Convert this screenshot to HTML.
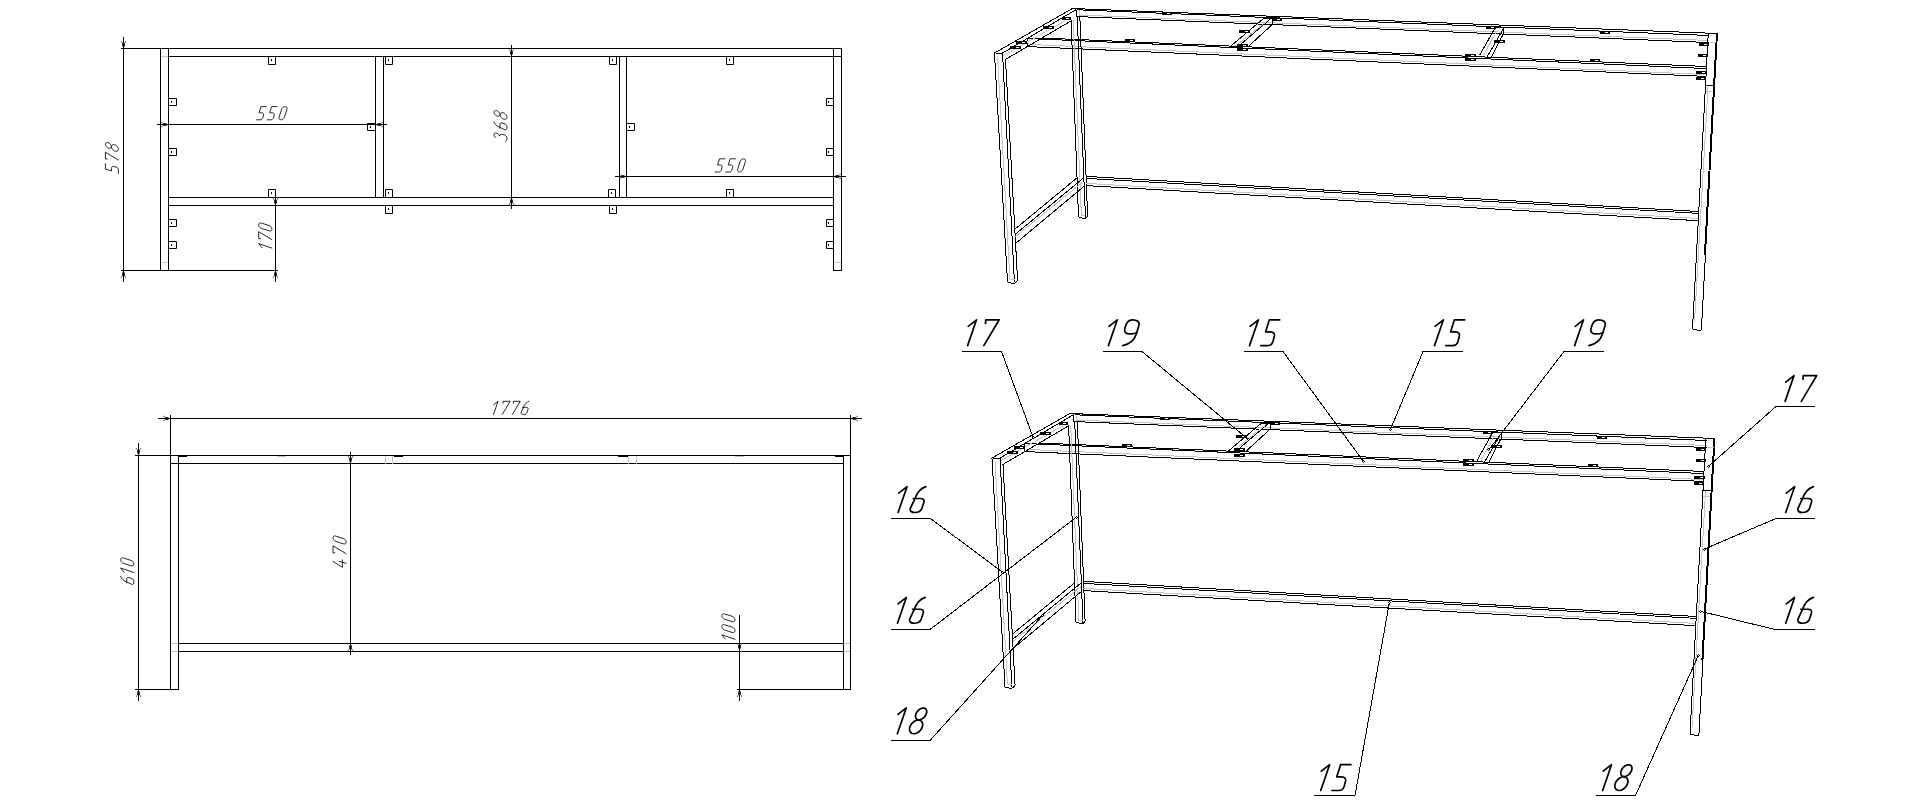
<!DOCTYPE html>
<html><head><meta charset="utf-8"><title>Frame drawing</title>
<style>
html,body{margin:0;padding:0;background:#fff;width:1920px;height:804px;overflow:hidden;font-family:"Liberation Sans",sans-serif;}
svg{display:block;}
</style></head>
<body>
<svg width="1920" height="804" viewBox="0 0 1920 804" fill="none" stroke-width="1">
<rect width="1920" height="804" fill="#fff"/>
<path d="M121 48.5H842" stroke="#000"/>
<path d="M168 56.5H842" stroke="#000"/>
<path d="M168 197.5H834" stroke="#000"/>
<path d="M168 205.5H834" stroke="#000"/>
<path d="M121 270.5H278" stroke="#000"/>
<path d="M833 270.5H842" stroke="#000"/>
<path d="M160.5 48V271" stroke="#000"/>
<path d="M168.5 48V271" stroke="#000"/>
<path d="M833.5 48V271" stroke="#000"/>
<path d="M841.5 48V271" stroke="#000"/>
<path d="M375.5 56V198" stroke="#000"/>
<path d="M383.5 56V198" stroke="#000"/>
<path d="M619.5 56V198" stroke="#000"/>
<path d="M626.5 56V198" stroke="#000"/>
<path d="M161 56.5H168" stroke="#c4c4c4"/>
<path d="M161 262.5H168" stroke="#c4c4c4"/>
<path d="M834 262.5H841" stroke="#c4c4c4"/>
<path d="M123.5 37V282" stroke="#000"/>
<path d="M122.2 46.5L124.8 46.5L124.8 42.7L122.2 42.7Z" fill="#000" stroke="none"/>
<rect x="120.8" y="41.4" width="1" height="1" fill="#000"/>
<rect x="125.2" y="41.4" width="1" height="1" fill="#000"/>
<path d="M124.8 272.5L122.2 272.5L122.2 276.3L124.8 276.3Z" fill="#000" stroke="none"/>
<rect x="125.2" y="276.6" width="1" height="1" fill="#000"/>
<rect x="120.8" y="276.6" width="1" height="1" fill="#000"/>
<path d="M275.5 196V282" stroke="#000"/>
<path d="M274.2 203.5L276.8 203.5L276.8 199.7L274.2 199.7Z" fill="#000" stroke="none"/>
<rect x="272.8" y="198.4" width="1" height="1" fill="#000"/>
<rect x="277.2" y="198.4" width="1" height="1" fill="#000"/>
<path d="M276.8 272.5L274.2 272.5L274.2 276.3L276.8 276.3Z" fill="#000" stroke="none"/>
<rect x="277.2" y="276.6" width="1" height="1" fill="#000"/>
<rect x="272.8" y="276.6" width="1" height="1" fill="#000"/>
<path d="M157 124.5H387" stroke="#000"/>
<path d="M166.5 125.8L166.5 123.2L162.7 123.2L162.7 125.8Z" fill="#000" stroke="none"/>
<rect x="161.4" y="126.2" width="1" height="1" fill="#000"/>
<rect x="161.4" y="121.8" width="1" height="1" fill="#000"/>
<path d="M377.5 123.2L377.5 125.8L381.3 125.8L381.3 123.2Z" fill="#000" stroke="none"/>
<rect x="381.6" y="121.8" width="1" height="1" fill="#000"/>
<rect x="381.6" y="126.2" width="1" height="1" fill="#000"/>
<path d="M511.5 45V209" stroke="#000"/>
<path d="M510.2 54.5L512.8 54.5L512.8 50.7L510.2 50.7Z" fill="#000" stroke="none"/>
<rect x="508.8" y="49.4" width="1" height="1" fill="#000"/>
<rect x="513.2" y="49.4" width="1" height="1" fill="#000"/>
<path d="M512.8 199.5L510.2 199.5L510.2 203.3L512.8 203.3Z" fill="#000" stroke="none"/>
<rect x="513.2" y="203.6" width="1" height="1" fill="#000"/>
<rect x="508.8" y="203.6" width="1" height="1" fill="#000"/>
<path d="M615 176.5H846" stroke="#000"/>
<path d="M624.5 177.8L624.5 175.2L620.7 175.2L620.7 177.8Z" fill="#000" stroke="none"/>
<rect x="619.4" y="178.2" width="1" height="1" fill="#000"/>
<rect x="619.4" y="173.8" width="1" height="1" fill="#000"/>
<path d="M835.5 175.2L835.5 177.8L839.3 177.8L839.3 175.2Z" fill="#000" stroke="none"/>
<rect x="839.6" y="173.8" width="1" height="1" fill="#000"/>
<rect x="839.6" y="178.2" width="1" height="1" fill="#000"/>
<path d="M268.5 56.5H275.5V64.5H268.5Z" fill="none" stroke="#000"/>
<rect x="271" y="59" width="1" height="2" fill="#000"/>
<path d="M385.5 56.5H392.5V64.5H385.5Z" fill="none" stroke="#000"/>
<rect x="388" y="59" width="1" height="2" fill="#000"/>
<path d="M609.5 56.5H616.5V64.5H609.5Z" fill="none" stroke="#000"/>
<rect x="612" y="59" width="1" height="2" fill="#000"/>
<path d="M726.5 56.5H733.5V64.5H726.5Z" fill="none" stroke="#000"/>
<rect x="729" y="59" width="1" height="2" fill="#000"/>
<path d="M268.5 189.5H275.5V197.5H268.5Z" fill="none" stroke="#000"/>
<rect x="271" y="192" width="1" height="2" fill="#000"/>
<path d="M385.5 189.5H392.5V197.5H385.5Z" fill="none" stroke="#000"/>
<rect x="388" y="192" width="1" height="2" fill="#000"/>
<path d="M608.5 189.5H615.5V197.5H608.5Z" fill="none" stroke="#000"/>
<rect x="611" y="192" width="1" height="2" fill="#000"/>
<path d="M726.5 189.5H733.5V197.5H726.5Z" fill="none" stroke="#000"/>
<rect x="729" y="192" width="1" height="2" fill="#000"/>
<path d="M385.5 205.5H392.5V213.5H385.5Z" fill="none" stroke="#000"/>
<rect x="388" y="208" width="1" height="2" fill="#000"/>
<path d="M609.5 205.5H616.5V213.5H609.5Z" fill="none" stroke="#000"/>
<rect x="612" y="208" width="1" height="2" fill="#000"/>
<path d="M168.5 98.5H176.5V105.5H168.5Z" fill="none" stroke="#000"/>
<rect x="171" y="101" width="1" height="2" fill="#000"/>
<path d="M826.5 98.5H833.5V105.5H826.5Z" fill="none" stroke="#000"/>
<rect x="828" y="101" width="1" height="2" fill="#000"/>
<path d="M168.5 148.5H176.5V155.5H168.5Z" fill="none" stroke="#000"/>
<rect x="171" y="151" width="1" height="2" fill="#000"/>
<path d="M826.5 148.5H833.5V155.5H826.5Z" fill="none" stroke="#000"/>
<rect x="828" y="151" width="1" height="2" fill="#000"/>
<path d="M168.5 219.5H176.5V226.5H168.5Z" fill="none" stroke="#000"/>
<rect x="171" y="222" width="1" height="2" fill="#000"/>
<path d="M826.5 219.5H833.5V226.5H826.5Z" fill="none" stroke="#000"/>
<rect x="828" y="222" width="1" height="2" fill="#000"/>
<path d="M168.5 241.5H176.5V248.5H168.5Z" fill="none" stroke="#000"/>
<rect x="171" y="244" width="1" height="2" fill="#000"/>
<path d="M826.5 241.5H833.5V248.5H826.5Z" fill="none" stroke="#000"/>
<rect x="828" y="244" width="1" height="2" fill="#000"/>
<path d="M367.5 123.5H375.5V130.5H367.5Z" fill="none" stroke="#000"/>
<rect x="370" y="126" width="1" height="2" fill="#000"/>
<path d="M626.5 123.5H634.5V130.5H626.5Z" fill="none" stroke="#000"/>
<rect x="629" y="126" width="1" height="2" fill="#000"/>
<g fill="none" stroke="#000" stroke-width="0.85" stroke-linecap="round" stroke-linejoin="round" vector-effect="non-scaling-stroke"><path vector-effect="non-scaling-stroke" transform="translate(259.1 119.8) scale(1.32)" d="M5.47 -10H1.48L-0.03 -5.31H2.0C3.0 -5.31 3.6 -4.6 3.4 -3.7L2.85 -1.6C2.55 -0.6 1.8 0 0.74 0H-1.89"/><path vector-effect="non-scaling-stroke" transform="translate(269.7 119.8) scale(1.32)" d="M5.47 -10H1.48L-0.03 -5.31H2.0C3.0 -5.31 3.6 -4.6 3.4 -3.7L2.85 -1.6C2.55 -0.6 1.8 0 0.74 0H-1.89"/><path vector-effect="non-scaling-stroke" transform="translate(280.8 119.8) scale(1.32)" d="M0.66 -8.00L0.96 -8.62L1.42 -9.18L2.00 -9.62L2.65 -9.90L3.30 -10.00L3.89 -9.90L4.35 -9.62L4.65 -9.18L4.76 -8.62L4.66 -8.00L2.74 -2.00L2.44 -1.38L1.98 -0.82L1.40 -0.38L0.75 -0.10L0.10 0.00L-0.49 -0.10L-0.95 -0.38L-1.25 -0.82L-1.36 -1.38L-1.26 -2.00Z"/></g>
<g fill="none" stroke="#000" stroke-width="0.85" stroke-linecap="round" stroke-linejoin="round" vector-effect="non-scaling-stroke"><path vector-effect="non-scaling-stroke" transform="translate(717.6 172) scale(1.32)" d="M5.47 -10H1.48L-0.03 -5.31H2.0C3.0 -5.31 3.6 -4.6 3.4 -3.7L2.85 -1.6C2.55 -0.6 1.8 0 0.74 0H-1.89"/><path vector-effect="non-scaling-stroke" transform="translate(728.2 172) scale(1.32)" d="M5.47 -10H1.48L-0.03 -5.31H2.0C3.0 -5.31 3.6 -4.6 3.4 -3.7L2.85 -1.6C2.55 -0.6 1.8 0 0.74 0H-1.89"/><path vector-effect="non-scaling-stroke" transform="translate(739.3 172) scale(1.32)" d="M0.66 -8.00L0.96 -8.62L1.42 -9.18L2.00 -9.62L2.65 -9.90L3.30 -10.00L3.89 -9.90L4.35 -9.62L4.65 -9.18L4.76 -8.62L4.66 -8.00L2.74 -2.00L2.44 -1.38L1.98 -0.82L1.40 -0.38L0.75 -0.10L0.10 0.00L-0.49 -0.10L-0.95 -0.38L-1.25 -0.82L-1.36 -1.38L-1.26 -2.00Z"/></g>
<g fill="none" stroke="#000" stroke-width="0.85" stroke-linecap="round" stroke-linejoin="round" vector-effect="non-scaling-stroke"><path vector-effect="non-scaling-stroke" transform="translate(118.4 170.9) rotate(-90) scale(1.3)" d="M5.47 -10H1.48L-0.03 -5.31H2.0C3.0 -5.31 3.6 -4.6 3.4 -3.7L2.85 -1.6C2.55 -0.6 1.8 0 0.74 0H-1.89"/><path vector-effect="non-scaling-stroke" transform="translate(118.4 160) rotate(-90) scale(1.3)" d="M0.7 -8.57L0.78 -10H6.01L0.04 0"/><path vector-effect="non-scaling-stroke" transform="translate(118.4 149.3) rotate(-90) scale(1.3)" d="M4.97 -7.69L4.67 -7.09L4.26 -6.54L3.76 -6.06L3.20 -5.70L2.63 -5.47L2.08 -5.39L1.60 -5.47L1.20 -5.70L0.93 -6.06L0.80 -6.54L0.81 -7.09L0.97 -7.69L1.27 -8.29L1.68 -8.84L2.18 -9.32L2.74 -9.68L3.31 -9.91L3.86 -9.99L4.34 -9.91L4.74 -9.68L5.01 -9.32L5.14 -8.84L5.13 -8.29ZM3.43 -2.66L3.12 -1.97L2.67 -1.33L2.11 -0.78L1.47 -0.36L0.80 -0.09L0.15 0.00L-0.44 -0.09L-0.93 -0.36L-1.29 -0.78L-1.49 -1.33L-1.52 -1.97L-1.37 -2.66L-1.06 -3.35L-0.61 -3.99L-0.05 -4.54L0.59 -4.96L1.26 -5.23L1.91 -5.32L2.50 -5.23L2.99 -4.96L3.35 -4.54L3.55 -3.99L3.58 -3.35Z"/></g>
<g fill="none" stroke="#000" stroke-width="0.85" stroke-linecap="round" stroke-linejoin="round" vector-effect="non-scaling-stroke"><path vector-effect="non-scaling-stroke" transform="translate(507 141.6) rotate(-90) scale(1.3)" d="M3.2 -8.6C3.4 -9.6 4.1 -10 5 -10C6.2 -10 6.9 -9.3 6.6 -8.2C6.3 -6.9 5.4 -5.8 4.2 -5.7C5.4 -5.6 5.8 -4.6 5.5 -3.4L5.2 -2.1C4.8 -0.7 3.8 0 2.4 0C1.4 0 0.6 -0.4 0.2 -1"/><path vector-effect="non-scaling-stroke" transform="translate(507 127.8) rotate(-90) scale(1.3)" d="M4.5 -10.05C2.6 -9.4 1 -7.6 0.2 -5.2L-1.5 -1.6C-1.8 -0.5 -1 0 0.3 0C1.6 0 2.5 -0.5 2.9 -1.4L3.7 -3.8C4.1 -4.9 3.5 -5.43 2.4 -5.43H-0.4"/><path vector-effect="non-scaling-stroke" transform="translate(507 117.3) rotate(-90) scale(1.3)" d="M4.97 -7.69L4.67 -7.09L4.26 -6.54L3.76 -6.06L3.20 -5.70L2.63 -5.47L2.08 -5.39L1.60 -5.47L1.20 -5.70L0.93 -6.06L0.80 -6.54L0.81 -7.09L0.97 -7.69L1.27 -8.29L1.68 -8.84L2.18 -9.32L2.74 -9.68L3.31 -9.91L3.86 -9.99L4.34 -9.91L4.74 -9.68L5.01 -9.32L5.14 -8.84L5.13 -8.29ZM3.43 -2.66L3.12 -1.97L2.67 -1.33L2.11 -0.78L1.47 -0.36L0.80 -0.09L0.15 0.00L-0.44 -0.09L-0.93 -0.36L-1.29 -0.78L-1.49 -1.33L-1.52 -1.97L-1.37 -2.66L-1.06 -3.35L-0.61 -3.99L-0.05 -4.54L0.59 -4.96L1.26 -5.23L1.91 -5.32L2.50 -5.23L2.99 -4.96L3.35 -4.54L3.55 -3.99L3.58 -3.35Z"/></g>
<g fill="none" stroke="#000" stroke-width="0.85" stroke-linecap="round" stroke-linejoin="round" vector-effect="non-scaling-stroke"><path vector-effect="non-scaling-stroke" transform="translate(271.9 249.95) rotate(-90) scale(1.32)" d="M1.63 -7.48L4.85 -10L1.4 0"/><path vector-effect="non-scaling-stroke" transform="translate(271.9 239.65) rotate(-90) scale(1.32)" d="M0.7 -8.57L0.78 -10H6.01L0.04 0"/><path vector-effect="non-scaling-stroke" transform="translate(271.9 229.2) rotate(-90) scale(1.32)" d="M0.66 -8.00L0.96 -8.62L1.42 -9.18L2.00 -9.62L2.65 -9.90L3.30 -10.00L3.89 -9.90L4.35 -9.62L4.65 -9.18L4.76 -8.62L4.66 -8.00L2.74 -2.00L2.44 -1.38L1.98 -0.82L1.40 -0.38L0.75 -0.10L0.10 0.00L-0.49 -0.10L-0.95 -0.38L-1.25 -0.82L-1.36 -1.38L-1.26 -2.00Z"/></g>
<path d="M158 418.5H862" stroke="#000"/>
<path d="M168.5 419.8L168.5 417.2L164.7 417.2L164.7 419.8Z" fill="#000" stroke="none"/>
<rect x="163.4" y="420.2" width="1" height="1" fill="#000"/>
<rect x="163.4" y="415.8" width="1" height="1" fill="#000"/>
<path d="M852.5 417.2L852.5 419.8L856.3 419.8L856.3 417.2Z" fill="#000" stroke="none"/>
<rect x="856.6" y="415.8" width="1" height="1" fill="#000"/>
<rect x="856.6" y="420.2" width="1" height="1" fill="#000"/>
<path d="M170.5 415V690" stroke="#000"/>
<path d="M850.5 415V690" stroke="#000"/>
<path d="M178.5 455V690" stroke="#000"/>
<path d="M843.5 455V690" stroke="#000"/>
<path d="M135 455.5H851" stroke="#000"/>
<path d="M170 463.5H844" stroke="#000"/>
<path d="M178 643.5H844" stroke="#000"/>
<path d="M178 651.5H844" stroke="#000"/>
<path d="M171 643.5H178" stroke="#c4c4c4"/>
<path d="M171 651.5H178" stroke="#c4c4c4"/>
<path d="M844 643.5H850" stroke="#c4c4c4"/>
<path d="M844 651.5H850" stroke="#c4c4c4"/>
<path d="M135 689.5H179" stroke="#000"/>
<path d="M737 689.5H851" stroke="#000"/>
<path d="M138.5 443V701" stroke="#000"/>
<path d="M137.2 453.5L139.8 453.5L139.8 449.7L137.2 449.7Z" fill="#000" stroke="none"/>
<rect x="135.8" y="448.4" width="1" height="1" fill="#000"/>
<rect x="140.2" y="448.4" width="1" height="1" fill="#000"/>
<path d="M139.8 691.5L137.2 691.5L137.2 695.3L139.8 695.3Z" fill="#000" stroke="none"/>
<rect x="140.2" y="695.6" width="1" height="1" fill="#000"/>
<rect x="135.8" y="695.6" width="1" height="1" fill="#000"/>
<path d="M350.5 452V655" stroke="#000"/>
<path d="M349.2 461.5L351.8 461.5L351.8 457.7L349.2 457.7Z" fill="#000" stroke="none"/>
<rect x="347.8" y="456.4" width="1" height="1" fill="#000"/>
<rect x="352.2" y="456.4" width="1" height="1" fill="#000"/>
<path d="M351.8 645.5L349.2 645.5L349.2 649.3L351.8 649.3Z" fill="#000" stroke="none"/>
<rect x="352.2" y="649.6" width="1" height="1" fill="#000"/>
<rect x="347.8" y="649.6" width="1" height="1" fill="#000"/>
<path d="M739.5 615V701" stroke="#000"/>
<path d="M738.2 648.5L740.8 648.5L740.8 644.7L738.2 644.7Z" fill="#000" stroke="none"/>
<rect x="736.8" y="643.4" width="1" height="1" fill="#000"/>
<rect x="741.2" y="643.4" width="1" height="1" fill="#000"/>
<path d="M740.8 691.5L738.2 691.5L738.2 695.3L740.8 695.3Z" fill="#000" stroke="none"/>
<rect x="741.2" y="695.6" width="1" height="1" fill="#000"/>
<rect x="736.8" y="695.6" width="1" height="1" fill="#000"/>
<path d="M179 456.5H187" stroke="#000"/>
<path d="M394 456.5H403" stroke="#000"/>
<path d="M618 456.5H628" stroke="#000"/>
<path d="M835 456.5H844" stroke="#000"/>
<path d="M277 456.5H286" stroke="#c4c4c4"/>
<path d="M735 456.5H744" stroke="#c4c4c4"/>
<path d="M385.5 456V464" stroke="#c4c4c4"/>
<path d="M392.5 456V464" stroke="#c4c4c4"/>
<path d="M628.5 456V464" stroke="#c4c4c4"/>
<path d="M636.5 456V464" stroke="#c4c4c4"/>
<g fill="none" stroke="#000" stroke-width="0.85" stroke-linecap="round" stroke-linejoin="round" vector-effect="non-scaling-stroke"><path vector-effect="non-scaling-stroke" transform="translate(491.65 414.5) scale(1.32)" d="M1.63 -7.48L4.85 -10L1.4 0"/><path vector-effect="non-scaling-stroke" transform="translate(502.2 414.5) scale(1.32)" d="M0.7 -8.57L0.78 -10H6.01L0.04 0"/><path vector-effect="non-scaling-stroke" transform="translate(512.35 414.5) scale(1.32)" d="M0.7 -8.57L0.78 -10H6.01L0.04 0"/><path vector-effect="non-scaling-stroke" transform="translate(523.1 414.5) scale(1.32)" d="M4.5 -10.05C2.6 -9.4 1 -7.6 0.2 -5.2L-1.5 -1.6C-1.8 -0.5 -1 0 0.3 0C1.6 0 2.5 -0.5 2.9 -1.4L3.7 -3.8C4.1 -4.9 3.5 -5.43 2.4 -5.43H-0.4"/></g>
<g fill="none" stroke="#000" stroke-width="0.85" stroke-linecap="round" stroke-linejoin="round" vector-effect="non-scaling-stroke"><path vector-effect="non-scaling-stroke" transform="translate(133.9 582.4) rotate(-90) scale(1.32)" d="M4.5 -10.05C2.6 -9.4 1 -7.6 0.2 -5.2L-1.5 -1.6C-1.8 -0.5 -1 0 0.3 0C1.6 0 2.5 -0.5 2.9 -1.4L3.7 -3.8C4.1 -4.9 3.5 -5.43 2.4 -5.43H-0.4"/><path vector-effect="non-scaling-stroke" transform="translate(133.9 574.45) rotate(-90) scale(1.32)" d="M1.63 -7.48L4.85 -10L1.4 0"/><path vector-effect="non-scaling-stroke" transform="translate(133.9 564.1) rotate(-90) scale(1.32)" d="M0.66 -8.00L0.96 -8.62L1.42 -9.18L2.00 -9.62L2.65 -9.90L3.30 -10.00L3.89 -9.90L4.35 -9.62L4.65 -9.18L4.76 -8.62L4.66 -8.00L2.74 -2.00L2.44 -1.38L1.98 -0.82L1.40 -0.38L0.75 -0.10L0.10 0.00L-0.49 -0.10L-0.95 -0.38L-1.25 -0.82L-1.36 -1.38L-1.26 -2.00Z"/></g>
<g fill="none" stroke="#000" stroke-width="0.85" stroke-linecap="round" stroke-linejoin="round" vector-effect="non-scaling-stroke"><path vector-effect="non-scaling-stroke" transform="translate(346.2 567.3) rotate(-90) scale(1.32)" d="M4.5 -10L0 -2.9H5.6M4.55 -5.3L3.0 0"/><path vector-effect="non-scaling-stroke" transform="translate(346.2 553.8) rotate(-90) scale(1.32)" d="M0.7 -8.57L0.78 -10H6.01L0.04 0"/><path vector-effect="non-scaling-stroke" transform="translate(346.2 542.2) rotate(-90) scale(1.32)" d="M0.66 -8.00L0.96 -8.62L1.42 -9.18L2.00 -9.62L2.65 -9.90L3.30 -10.00L3.89 -9.90L4.35 -9.62L4.65 -9.18L4.76 -8.62L4.66 -8.00L2.74 -2.00L2.44 -1.38L1.98 -0.82L1.40 -0.38L0.75 -0.10L0.10 0.00L-0.49 -0.10L-0.95 -0.38L-1.25 -0.82L-1.36 -1.38L-1.26 -2.00Z"/></g>
<g fill="none" stroke="#000" stroke-width="0.85" stroke-linecap="round" stroke-linejoin="round" vector-effect="non-scaling-stroke"><path vector-effect="non-scaling-stroke" transform="translate(735 641.15) rotate(-90) scale(1.32)" d="M1.63 -7.48L4.85 -10L1.4 0"/><path vector-effect="non-scaling-stroke" transform="translate(735 630.8) rotate(-90) scale(1.32)" d="M0.66 -8.00L0.96 -8.62L1.42 -9.18L2.00 -9.62L2.65 -9.90L3.30 -10.00L3.89 -9.90L4.35 -9.62L4.65 -9.18L4.76 -8.62L4.66 -8.00L2.74 -2.00L2.44 -1.38L1.98 -0.82L1.40 -0.38L0.75 -0.10L0.10 0.00L-0.49 -0.10L-0.95 -0.38L-1.25 -0.82L-1.36 -1.38L-1.26 -2.00Z"/><path vector-effect="non-scaling-stroke" transform="translate(735 620) rotate(-90) scale(1.32)" d="M0.66 -8.00L0.96 -8.62L1.42 -9.18L2.00 -9.62L2.65 -9.90L3.30 -10.00L3.89 -9.90L4.35 -9.62L4.65 -9.18L4.76 -8.62L4.66 -8.00L2.74 -2.00L2.44 -1.38L1.98 -0.82L1.40 -0.38L0.75 -0.10L0.10 0.00L-0.49 -0.10L-0.95 -0.38L-1.25 -0.82L-1.36 -1.38L-1.26 -2.00Z"/></g>
<g shape-rendering="crispEdges">
<path d="M1072.5 8.52L1717.2 33.47" stroke="#000"/>
<path d="M1077 9.77L1709.5 35.51" stroke="#000"/>
<path d="M1079 15.06L1709.5 40.5" stroke="#c4c4c4"/>
<path d="M1077 16.57L1709.5 42.55" stroke="#000"/>
<path d="M1042 38.01L1706 66.47" stroke="#000"/>
<path d="M1027 38.45L1706 68.55" stroke="#000"/>
<path d="M1030 44.46L1705.5 74.54" stroke="#c4c4c4"/>
<path d="M1027 46.55L1705.5 76.4" stroke="#000"/>
<path d="M1027 38.5L1027 46.5" stroke="#000"/>
<path d="M1072.5 8.5L994.5 53" stroke="#000"/>
<path d="M1076.3 9.5L1002.5 53.1" stroke="#000"/>
<path d="M1065 21L1003.5 55.5" stroke="#c4c4c4"/>
<path d="M1070.5 21.2L1005.5 59.4" stroke="#000"/>
<path d="M994.5 53L1002.5 53.1" stroke="#000"/>
<path d="M994.48 53L1007.56 282.5" stroke="#000"/>
<path d="M997.52 56L1009.95 279.5" stroke="#c4c4c4"/>
<path d="M1002.54 53.1L1014.41 281.8" stroke="#000"/>
<path d="M1005.44 58.8L1017.61 280.5" stroke="#000"/>
<path d="M1007.6 282.5L1011.2 282.5" stroke="#000"/>
<path d="M1011.2 283.3L1014.5 283.3" stroke="#000"/>
<path d="M1014.5 283.3L1017.6 280.5" stroke="#000"/>
<path d="M1010.5 279.5L1014.5 279.5" stroke="#c4c4c4"/>
<path d="M1071.08 20L1078.53 217.5" stroke="#000"/>
<path d="M1073.16 20L1081.37 215.5" stroke="#c4c4c4"/>
<path d="M1077.2 16.3L1085.52 218" stroke="#000"/>
<path d="M1079.85 17L1087.62 216.5" stroke="#000"/>
<path d="M1079.4 10.5L1079.6 16.5" stroke="#c4c4c4"/>
<path d="M1078.5 217.5L1081.6 217.5" stroke="#000"/>
<path d="M1081.6 218.5L1085.5 218.5" stroke="#000"/>
<path d="M1085.5 218.5L1087.6 216.5" stroke="#000"/>
<path d="M1081.4 215.5L1085 215.5" stroke="#c4c4c4"/>
<path d="M1076.3 9.5L1076.3 16.5" stroke="#000"/>
<path d="M1077.5 177.5L1014.5 229.5" stroke="#000"/>
<path d="M1083.5 178L1015 234.5" stroke="#000"/>
<path d="M1083.5 181.5L1015.5 236.5" stroke="#c4c4c4"/>
<path d="M1083.8 186.5L1015.5 243.5" stroke="#000"/>
<path d="M1085.6 176.37L1698.8 211.51" stroke="#000"/>
<path d="M1085.6 178.38L1698.8 213.39" stroke="#000"/>
<path d="M1085.6 183.37L1698.8 218.51" stroke="#c4c4c4"/>
<path d="M1085.6 185.57L1698.8 220.71" stroke="#000"/>
<path d="M1708.28 33.4L1692.47 329.5" stroke="#000"/>
<path d="M1716.46 33.4L1704.43 255" stroke="#000"/>
<path d="M1717.45 33.4L1701.35 330.5" stroke="#000"/>
<path d="M1708.08 86L1694.51 322" stroke="#c4c4c4"/>
<path d="M1692.5 329.5L1696.5 329.5" stroke="#000"/>
<path d="M1696.5 330.5L1701.4 330.5" stroke="#000"/>
<path d="M1709.5 33.5L1717.2 33.5" stroke="#000"/>
<path d="M1709.5 42.5L1716 42.5" stroke="#c4c4c4"/>
<path d="M1705.5 85.5L1713.5 85.5" stroke="#000"/>
<path d="M1705.5 91.5L1712.5 91.5" stroke="#c4c4c4"/>
<path d="M1263.6 18.4L1231.1 45.8" stroke="#000"/>
<path d="M1270.3 19L1239 45.8" stroke="#000"/>
<path d="M1272.3 24.5L1249 45.8" stroke="#000"/>
<path d="M1263.6 18.4L1272.5 18.4" stroke="#000"/>
<path d="M1272.5 18.4L1272.5 24.5" stroke="#000"/>
<path d="M1267 21L1235.5 46" stroke="#c4c4c4"/>
<path d="M1495 28L1479.5 55.5" stroke="#000"/>
<path d="M1496.5 31L1483.5 55.5" stroke="#c4c4c4"/>
<path d="M1503.3 29L1487 57" stroke="#000"/>
<path d="M1503 34.5L1491.5 57" stroke="#000"/>
<path d="M1495 27.8L1503.5 27.8" stroke="#000"/>
<path d="M1503.5 27.8L1503.5 34.5" stroke="#000"/>
</g>
<rect x="1062" y="17" width="9" height="3" fill="#000"/>
<rect x="1066" y="18" width="3" height="1" fill="#fff"/>
<rect x="1043" y="26" width="11" height="3" fill="#000"/>
<rect x="1049" y="27" width="3" height="1" fill="#fff"/>
<rect x="1016" y="41" width="11" height="3" fill="#000"/>
<rect x="1022" y="42" width="3" height="1" fill="#fff"/>
<rect x="1010" y="46" width="11" height="3" fill="#000"/>
<rect x="1016" y="47" width="3" height="1" fill="#fff"/>
<rect x="1162" y="12" width="10" height="3" fill="#000"/>
<rect x="1167" y="13" width="3" height="1" fill="#fff"/>
<rect x="1125" y="39" width="10" height="3" fill="#000"/>
<rect x="1130" y="40" width="3" height="1" fill="#fff"/>
<rect x="1239" y="30" width="11" height="3" fill="#000"/>
<rect x="1245" y="31" width="3" height="1" fill="#fff"/>
<rect x="1272" y="18" width="10" height="3" fill="#000"/>
<rect x="1277" y="19" width="3" height="1" fill="#fff"/>
<rect x="1237" y="44" width="11" height="3" fill="#000"/>
<rect x="1243" y="45" width="3" height="1" fill="#fff"/>
<rect x="1237" y="48" width="11" height="3" fill="#000"/>
<rect x="1243" y="49" width="3" height="1" fill="#fff"/>
<rect x="1486" y="26" width="10" height="3" fill="#000"/>
<rect x="1491" y="27" width="3" height="1" fill="#fff"/>
<rect x="1494" y="40" width="11" height="3" fill="#000"/>
<rect x="1500" y="41" width="3" height="1" fill="#fff"/>
<rect x="1465" y="54" width="11" height="3" fill="#000"/>
<rect x="1471" y="55" width="3" height="1" fill="#fff"/>
<rect x="1465" y="58" width="11" height="3" fill="#000"/>
<rect x="1471" y="59" width="3" height="1" fill="#fff"/>
<rect x="1600" y="31" width="10" height="3" fill="#000"/>
<rect x="1605" y="32" width="3" height="1" fill="#fff"/>
<rect x="1590" y="59" width="10" height="3" fill="#000"/>
<rect x="1595" y="60" width="3" height="1" fill="#fff"/>
<rect x="1699" y="43" width="10" height="3" fill="#000"/>
<rect x="1704" y="44" width="3" height="1" fill="#fff"/>
<rect x="1698" y="54" width="10" height="3" fill="#000"/>
<rect x="1703" y="55" width="3" height="1" fill="#fff"/>
<rect x="1696" y="71" width="11" height="3" fill="#000"/>
<rect x="1702" y="72" width="3" height="1" fill="#fff"/>
<rect x="1696" y="77" width="10" height="3" fill="#000"/>
<rect x="1701" y="78" width="3" height="1" fill="#fff"/>
<g shape-rendering="crispEdges">
<path d="M1070 413.52L1714.7 438.47" stroke="#000"/>
<path d="M1074.5 414.77L1707 440.51" stroke="#000"/>
<path d="M1076.5 420.06L1707 445.5" stroke="#c4c4c4"/>
<path d="M1074.5 421.57L1707 447.55" stroke="#000"/>
<path d="M1039.5 443.01L1703.5 471.47" stroke="#000"/>
<path d="M1024.5 443.45L1703.5 473.55" stroke="#000"/>
<path d="M1027.5 449.46L1703 479.54" stroke="#c4c4c4"/>
<path d="M1024.5 451.55L1703 481.4" stroke="#000"/>
<path d="M1024.5 443.5L1024.5 451.5" stroke="#000"/>
<path d="M1070 413.5L992 458" stroke="#000"/>
<path d="M1073.8 414.5L1000 458.1" stroke="#000"/>
<path d="M1062.5 426L1001 460.5" stroke="#c4c4c4"/>
<path d="M1068 426.2L1003 464.4" stroke="#000"/>
<path d="M992 458L1000 458.1" stroke="#000"/>
<path d="M991.98 458L1005.06 687.5" stroke="#000"/>
<path d="M995.02 461L1007.45 684.5" stroke="#c4c4c4"/>
<path d="M1000.04 458.1L1011.91 686.8" stroke="#000"/>
<path d="M1002.94 463.8L1015.11 685.5" stroke="#000"/>
<path d="M1005.1 687.5L1008.7 687.5" stroke="#000"/>
<path d="M1008.7 688.3L1012 688.3" stroke="#000"/>
<path d="M1012 688.3L1015.1 685.5" stroke="#000"/>
<path d="M1008 684.5L1012 684.5" stroke="#c4c4c4"/>
<path d="M1068.58 425L1076.03 622.5" stroke="#000"/>
<path d="M1070.66 425L1078.87 620.5" stroke="#c4c4c4"/>
<path d="M1074.7 421.3L1083.02 623" stroke="#000"/>
<path d="M1077.35 422L1085.12 621.5" stroke="#000"/>
<path d="M1076.9 415.5L1077.1 421.5" stroke="#c4c4c4"/>
<path d="M1076 622.5L1079.1 622.5" stroke="#000"/>
<path d="M1079.1 623.5L1083 623.5" stroke="#000"/>
<path d="M1083 623.5L1085.1 621.5" stroke="#000"/>
<path d="M1078.9 620.5L1082.5 620.5" stroke="#c4c4c4"/>
<path d="M1073.8 414.5L1073.8 421.5" stroke="#000"/>
<path d="M1075 582.5L1012 634.5" stroke="#000"/>
<path d="M1081 583L1012.5 639.5" stroke="#000"/>
<path d="M1081 586.5L1013 641.5" stroke="#c4c4c4"/>
<path d="M1081.3 591.5L1013 648.5" stroke="#000"/>
<path d="M1083.1 581.37L1696.3 616.51" stroke="#000"/>
<path d="M1083.1 583.38L1696.3 618.39" stroke="#000"/>
<path d="M1083.1 588.37L1696.3 623.51" stroke="#c4c4c4"/>
<path d="M1083.1 590.57L1696.3 625.71" stroke="#000"/>
<path d="M1705.78 438.4L1689.97 734.5" stroke="#000"/>
<path d="M1713.96 438.4L1701.93 660" stroke="#000"/>
<path d="M1714.95 438.4L1698.85 735.5" stroke="#000"/>
<path d="M1705.58 491L1692.01 727" stroke="#c4c4c4"/>
<path d="M1690 734.5L1694 734.5" stroke="#000"/>
<path d="M1694 735.5L1698.9 735.5" stroke="#000"/>
<path d="M1707 438.5L1714.7 438.5" stroke="#000"/>
<path d="M1707 447.5L1713.5 447.5" stroke="#c4c4c4"/>
<path d="M1703 490.5L1711 490.5" stroke="#000"/>
<path d="M1703 496.5L1710 496.5" stroke="#c4c4c4"/>
<path d="M1261.1 423.4L1228.6 450.8" stroke="#000"/>
<path d="M1267.8 424L1236.5 450.8" stroke="#000"/>
<path d="M1269.8 429.5L1246.5 450.8" stroke="#000"/>
<path d="M1261.1 423.4L1270 423.4" stroke="#000"/>
<path d="M1270 423.4L1270 429.5" stroke="#000"/>
<path d="M1264.5 426L1233 451" stroke="#c4c4c4"/>
<path d="M1492.5 433L1477 460.5" stroke="#000"/>
<path d="M1494 436L1481 460.5" stroke="#c4c4c4"/>
<path d="M1500.8 434L1484.5 462" stroke="#000"/>
<path d="M1500.5 439.5L1489 462" stroke="#000"/>
<path d="M1492.5 432.8L1501 432.8" stroke="#000"/>
<path d="M1501 432.8L1501 439.5" stroke="#000"/>
</g>
<rect x="1059" y="422" width="9" height="3" fill="#000"/>
<rect x="1063" y="423" width="3" height="1" fill="#fff"/>
<rect x="1040" y="432" width="11" height="3" fill="#000"/>
<rect x="1046" y="433" width="3" height="1" fill="#fff"/>
<rect x="1014" y="446" width="11" height="3" fill="#000"/>
<rect x="1020" y="447" width="3" height="1" fill="#fff"/>
<rect x="1007" y="451" width="11" height="3" fill="#000"/>
<rect x="1013" y="452" width="3" height="1" fill="#fff"/>
<rect x="1160" y="417" width="10" height="3" fill="#000"/>
<rect x="1165" y="418" width="3" height="1" fill="#fff"/>
<rect x="1122" y="444" width="10" height="3" fill="#000"/>
<rect x="1127" y="445" width="3" height="1" fill="#fff"/>
<rect x="1236" y="435" width="11" height="3" fill="#000"/>
<rect x="1242" y="436" width="3" height="1" fill="#fff"/>
<rect x="1270" y="422" width="10" height="3" fill="#000"/>
<rect x="1275" y="423" width="3" height="1" fill="#fff"/>
<rect x="1234" y="448" width="11" height="3" fill="#000"/>
<rect x="1240" y="449" width="3" height="1" fill="#fff"/>
<rect x="1234" y="454" width="11" height="3" fill="#000"/>
<rect x="1240" y="455" width="3" height="1" fill="#fff"/>
<rect x="1483" y="431" width="10" height="3" fill="#000"/>
<rect x="1488" y="432" width="3" height="1" fill="#fff"/>
<rect x="1491" y="445" width="11" height="3" fill="#000"/>
<rect x="1497" y="446" width="3" height="1" fill="#fff"/>
<rect x="1463" y="459" width="11" height="3" fill="#000"/>
<rect x="1469" y="460" width="3" height="1" fill="#fff"/>
<rect x="1463" y="463" width="11" height="3" fill="#000"/>
<rect x="1469" y="464" width="3" height="1" fill="#fff"/>
<rect x="1597" y="436" width="10" height="3" fill="#000"/>
<rect x="1602" y="437" width="3" height="1" fill="#fff"/>
<rect x="1588" y="464" width="10" height="3" fill="#000"/>
<rect x="1593" y="465" width="3" height="1" fill="#fff"/>
<rect x="1696" y="448" width="10" height="3" fill="#000"/>
<rect x="1701" y="449" width="3" height="1" fill="#fff"/>
<rect x="1696" y="459" width="10" height="3" fill="#000"/>
<rect x="1701" y="460" width="3" height="1" fill="#fff"/>
<rect x="1694" y="476" width="11" height="3" fill="#000"/>
<rect x="1700" y="477" width="3" height="1" fill="#fff"/>
<rect x="1694" y="482" width="10" height="3" fill="#000"/>
<rect x="1699" y="483" width="3" height="1" fill="#fff"/>
<g transform="translate(964 345.6) scale(2.58)" fill="none" stroke="#000" stroke-width="0.66" stroke-linecap="round" stroke-linejoin="round"><path transform="translate(0 0)" d="M1.63 -7.48L4.85 -10L1.4 0"/><path transform="translate(7.64 0)" d="M0.7 -8.57L0.78 -10H6.01L0.04 0"/></g>
<g shape-rendering="crispEdges">
<path d="M962 351.5L1001.5 351.5" stroke="#000"/>
<path d="M1001.5 351.5L1032.95 436.86" stroke="#000"/>
</g>
<rect x="1033" y="437" width="1" height="1" fill="#fff"/>
<rect x="1033" y="436" width="1" height="1" fill="#000"/>
<rect x="1032" y="437" width="1" height="1" fill="#000"/>
<rect x="1034" y="437" width="1" height="1" fill="#000"/>
<rect x="1033" y="438" width="1" height="1" fill="#000"/>
<g transform="translate(1104.8 345.6) scale(2.58)" fill="none" stroke="#000" stroke-width="0.66" stroke-linecap="round" stroke-linejoin="round"><path transform="translate(0 0)" d="M1.63 -7.48L4.85 -10L1.4 0"/><path transform="translate(7.64 0)" d="M4.4 -4.9C3.6 -4.6 2.6 -4.5 1.6 -4.55C0.4 -4.6 -0.15 -5.5 0.1 -6.6C0.5 -8.6 1.6 -10 3.1 -10C4.9 -10 5.9 -9.2 5.6 -7.9L4.6 -4.6C3.8 -2 2.2 -0.6 -0.7 0"/></g>
<g shape-rendering="crispEdges">
<path d="M1103 351.5L1142 351.5" stroke="#000"/>
<path d="M1142 351.5L1247.53 438.76" stroke="#000"/>
</g>
<rect x="1248" y="439" width="1" height="1" fill="#fff"/>
<rect x="1248" y="438" width="1" height="1" fill="#000"/>
<rect x="1247" y="439" width="1" height="1" fill="#000"/>
<rect x="1249" y="439" width="1" height="1" fill="#000"/>
<rect x="1248" y="440" width="1" height="1" fill="#000"/>
<g transform="translate(1245.9 345.6) scale(2.58)" fill="none" stroke="#000" stroke-width="0.66" stroke-linecap="round" stroke-linejoin="round"><path transform="translate(0 0)" d="M1.63 -7.48L4.85 -10L1.4 0"/><path transform="translate(7.64 0)" d="M5.47 -10H1.48L-0.03 -5.31H2.0C3.0 -5.31 3.6 -4.6 3.4 -3.7L2.85 -1.6C2.55 -0.6 1.8 0 0.74 0H-1.89"/></g>
<g shape-rendering="crispEdges">
<path d="M1244 351.5L1283 351.5" stroke="#000"/>
<path d="M1283 351.5L1362.81 460.59" stroke="#000"/>
</g>
<rect x="1363" y="461" width="1" height="1" fill="#fff"/>
<rect x="1363" y="460" width="1" height="1" fill="#000"/>
<rect x="1362" y="461" width="1" height="1" fill="#000"/>
<rect x="1364" y="461" width="1" height="1" fill="#000"/>
<rect x="1363" y="462" width="1" height="1" fill="#000"/>
<g transform="translate(1430.9 345.6) scale(2.58)" fill="none" stroke="#000" stroke-width="0.66" stroke-linecap="round" stroke-linejoin="round"><path transform="translate(0 0)" d="M1.63 -7.48L4.85 -10L1.4 0"/><path transform="translate(7.64 0)" d="M5.47 -10H1.48L-0.03 -5.31H2.0C3.0 -5.31 3.6 -4.6 3.4 -3.7L2.85 -1.6C2.55 -0.6 1.8 0 0.74 0H-1.89"/></g>
<g shape-rendering="crispEdges">
<path d="M1423 351.5L1463 351.5" stroke="#000"/>
<path d="M1423 351.5L1390.79 428.68" stroke="#000"/>
</g>
<rect x="1390" y="429" width="1" height="1" fill="#fff"/>
<rect x="1390" y="428" width="1" height="1" fill="#000"/>
<rect x="1389" y="429" width="1" height="1" fill="#000"/>
<rect x="1391" y="429" width="1" height="1" fill="#000"/>
<rect x="1390" y="430" width="1" height="1" fill="#000"/>
<g transform="translate(1571 345.6) scale(2.58)" fill="none" stroke="#000" stroke-width="0.66" stroke-linecap="round" stroke-linejoin="round"><path transform="translate(0 0)" d="M1.63 -7.48L4.85 -10L1.4 0"/><path transform="translate(7.64 0)" d="M4.4 -4.9C3.6 -4.6 2.6 -4.5 1.6 -4.55C0.4 -4.6 -0.15 -5.5 0.1 -6.6C0.5 -8.6 1.6 -10 3.1 -10C4.9 -10 5.9 -9.2 5.6 -7.9L4.6 -4.6C3.8 -2 2.2 -0.6 -0.7 0"/></g>
<g shape-rendering="crispEdges">
<path d="M1564 351.5L1604 351.5" stroke="#000"/>
<path d="M1564 351.5L1489.51 448.91" stroke="#000"/>
</g>
<rect x="1488" y="449" width="1" height="1" fill="#fff"/>
<rect x="1488" y="448" width="1" height="1" fill="#000"/>
<rect x="1487" y="449" width="1" height="1" fill="#000"/>
<rect x="1489" y="449" width="1" height="1" fill="#000"/>
<rect x="1488" y="450" width="1" height="1" fill="#000"/>
<g transform="translate(1781.5 401.4) scale(2.58)" fill="none" stroke="#000" stroke-width="0.66" stroke-linecap="round" stroke-linejoin="round"><path transform="translate(0 0)" d="M1.63 -7.48L4.85 -10L1.4 0"/><path transform="translate(7.64 0)" d="M0.7 -8.57L0.78 -10H6.01L0.04 0"/></g>
<g shape-rendering="crispEdges">
<path d="M1776 406.5L1815 406.5" stroke="#000"/>
<path d="M1776 406.5L1709.15 465.74" stroke="#000"/>
</g>
<rect x="1708" y="466" width="1" height="1" fill="#fff"/>
<rect x="1708" y="465" width="1" height="1" fill="#000"/>
<rect x="1707" y="466" width="1" height="1" fill="#000"/>
<rect x="1709" y="466" width="1" height="1" fill="#000"/>
<rect x="1708" y="467" width="1" height="1" fill="#000"/>
<g transform="translate(1782.1 512.5) scale(2.58)" fill="none" stroke="#000" stroke-width="0.66" stroke-linecap="round" stroke-linejoin="round"><path transform="translate(0 0)" d="M1.63 -7.48L4.85 -10L1.4 0"/><path transform="translate(7.64 0)" d="M4.5 -10.05C2.6 -9.4 1 -7.6 0.2 -5.2L-1.5 -1.6C-1.8 -0.5 -1 0 0.3 0C1.6 0 2.5 -0.5 2.9 -1.4L3.7 -3.8C4.1 -4.9 3.5 -5.43 2.4 -5.43H-0.4"/></g>
<g shape-rendering="crispEdges">
<path d="M1776 518.5L1815 518.5" stroke="#000"/>
<path d="M1776 518.5L1705.32 548.61" stroke="#000"/>
</g>
<rect x="1704" y="549" width="1" height="1" fill="#fff"/>
<rect x="1704" y="548" width="1" height="1" fill="#000"/>
<rect x="1703" y="549" width="1" height="1" fill="#000"/>
<rect x="1705" y="549" width="1" height="1" fill="#000"/>
<rect x="1704" y="550" width="1" height="1" fill="#000"/>
<g transform="translate(1782.1 623.25) scale(2.58)" fill="none" stroke="#000" stroke-width="0.66" stroke-linecap="round" stroke-linejoin="round"><path transform="translate(0 0)" d="M1.63 -7.48L4.85 -10L1.4 0"/><path transform="translate(7.64 0)" d="M4.5 -10.05C2.6 -9.4 1 -7.6 0.2 -5.2L-1.5 -1.6C-1.8 -0.5 -1 0 0.3 0C1.6 0 2.5 -0.5 2.9 -1.4L3.7 -3.8C4.1 -4.9 3.5 -5.43 2.4 -5.43H-0.4"/></g>
<g shape-rendering="crispEdges">
<path d="M1775 629.5L1815 629.5" stroke="#000"/>
<path d="M1775 629.5L1701.37 611.54" stroke="#000"/>
</g>
<rect x="1700" y="611" width="1" height="1" fill="#fff"/>
<rect x="1700" y="610" width="1" height="1" fill="#000"/>
<rect x="1699" y="611" width="1" height="1" fill="#000"/>
<rect x="1701" y="611" width="1" height="1" fill="#000"/>
<rect x="1700" y="612" width="1" height="1" fill="#000"/>
<g transform="translate(1599 790.5) scale(2.58)" fill="none" stroke="#000" stroke-width="0.66" stroke-linecap="round" stroke-linejoin="round"><path transform="translate(0 0)" d="M1.63 -7.48L4.85 -10L1.4 0"/><path transform="translate(7.64 0)" d="M4.97 -7.69L4.67 -7.09L4.26 -6.54L3.76 -6.06L3.20 -5.70L2.63 -5.47L2.08 -5.39L1.60 -5.47L1.20 -5.70L0.93 -6.06L0.80 -6.54L0.81 -7.09L0.97 -7.69L1.27 -8.29L1.68 -8.84L2.18 -9.32L2.74 -9.68L3.31 -9.91L3.86 -9.99L4.34 -9.91L4.74 -9.68L5.01 -9.32L5.14 -8.84L5.13 -8.29ZM3.43 -2.66L3.12 -1.97L2.67 -1.33L2.11 -0.78L1.47 -0.36L0.80 -0.09L0.15 0.00L-0.44 -0.09L-0.93 -0.36L-1.29 -0.78L-1.49 -1.33L-1.52 -1.97L-1.37 -2.66L-1.06 -3.35L-0.61 -3.99L-0.05 -4.54L0.59 -4.96L1.26 -5.23L1.91 -5.32L2.50 -5.23L2.99 -4.96L3.35 -4.54L3.55 -3.99L3.58 -3.35Z"/></g>
<g shape-rendering="crispEdges">
<path d="M1596 795.5L1635.5 795.5" stroke="#000"/>
<path d="M1635.5 795.5L1697.89 656.31" stroke="#000"/>
</g>
<rect x="1698" y="655" width="1" height="1" fill="#fff"/>
<rect x="1698" y="654" width="1" height="1" fill="#000"/>
<rect x="1697" y="655" width="1" height="1" fill="#000"/>
<rect x="1699" y="655" width="1" height="1" fill="#000"/>
<rect x="1698" y="656" width="1" height="1" fill="#000"/>
<g transform="translate(1317.1 790.5) scale(2.58)" fill="none" stroke="#000" stroke-width="0.66" stroke-linecap="round" stroke-linejoin="round"><path transform="translate(0 0)" d="M1.63 -7.48L4.85 -10L1.4 0"/><path transform="translate(7.64 0)" d="M5.47 -10H1.48L-0.03 -5.31H2.0C3.0 -5.31 3.6 -4.6 3.4 -3.7L2.85 -1.6C2.55 -0.6 1.8 0 0.74 0H-1.89"/></g>
<g shape-rendering="crispEdges">
<path d="M1313.8 795.5L1355 795.5" stroke="#000"/>
<path d="M1355 795.5L1389.22 603.38" stroke="#000"/>
</g>
<rect x="1389" y="602" width="1" height="1" fill="#fff"/>
<rect x="1389" y="601" width="1" height="1" fill="#000"/>
<rect x="1388" y="602" width="1" height="1" fill="#000"/>
<rect x="1390" y="602" width="1" height="1" fill="#000"/>
<rect x="1389" y="603" width="1" height="1" fill="#000"/>
<g transform="translate(894.5 512.5) scale(2.58)" fill="none" stroke="#000" stroke-width="0.66" stroke-linecap="round" stroke-linejoin="round"><path transform="translate(0 0)" d="M1.63 -7.48L4.85 -10L1.4 0"/><path transform="translate(7.64 0)" d="M4.5 -10.05C2.6 -9.4 1 -7.6 0.2 -5.2L-1.5 -1.6C-1.8 -0.5 -1 0 0.3 0C1.6 0 2.5 -0.5 2.9 -1.4L3.7 -3.8C4.1 -4.9 3.5 -5.43 2.4 -5.43H-0.4"/></g>
<g shape-rendering="crispEdges">
<path d="M891 518.5L930.6 518.5" stroke="#000"/>
<path d="M930.6 518.5L1001.6 571.6" stroke="#000"/>
</g>
<rect x="1002" y="572" width="1" height="1" fill="#fff"/>
<rect x="1002" y="571" width="1" height="1" fill="#000"/>
<rect x="1001" y="572" width="1" height="1" fill="#000"/>
<rect x="1003" y="572" width="1" height="1" fill="#000"/>
<rect x="1002" y="573" width="1" height="1" fill="#000"/>
<g transform="translate(893.85 623.25) scale(2.58)" fill="none" stroke="#000" stroke-width="0.66" stroke-linecap="round" stroke-linejoin="round"><path transform="translate(0 0)" d="M1.63 -7.48L4.85 -10L1.4 0"/><path transform="translate(7.64 0)" d="M4.5 -10.05C2.6 -9.4 1 -7.6 0.2 -5.2L-1.5 -1.6C-1.8 -0.5 -1 0 0.3 0C1.6 0 2.5 -0.5 2.9 -1.4L3.7 -3.8C4.1 -4.9 3.5 -5.43 2.4 -5.43H-0.4"/></g>
<g shape-rendering="crispEdges">
<path d="M891 629.5L930 629.5" stroke="#000"/>
<path d="M930 629.5L1075.31 518.01" stroke="#000"/>
</g>
<rect x="1076" y="517" width="1" height="1" fill="#fff"/>
<rect x="1076" y="516" width="1" height="1" fill="#000"/>
<rect x="1075" y="517" width="1" height="1" fill="#000"/>
<rect x="1077" y="517" width="1" height="1" fill="#000"/>
<rect x="1076" y="518" width="1" height="1" fill="#000"/>
<g transform="translate(893.75 733.75) scale(2.58)" fill="none" stroke="#000" stroke-width="0.66" stroke-linecap="round" stroke-linejoin="round"><path transform="translate(0 0)" d="M1.63 -7.48L4.85 -10L1.4 0"/><path transform="translate(7.64 0)" d="M4.97 -7.69L4.67 -7.09L4.26 -6.54L3.76 -6.06L3.20 -5.70L2.63 -5.47L2.08 -5.39L1.60 -5.47L1.20 -5.70L0.93 -6.06L0.80 -6.54L0.81 -7.09L0.97 -7.69L1.27 -8.29L1.68 -8.84L2.18 -9.32L2.74 -9.68L3.31 -9.91L3.86 -9.99L4.34 -9.91L4.74 -9.68L5.01 -9.32L5.14 -8.84L5.13 -8.29ZM3.43 -2.66L3.12 -1.97L2.67 -1.33L2.11 -0.78L1.47 -0.36L0.80 -0.09L0.15 0.00L-0.44 -0.09L-0.93 -0.36L-1.29 -0.78L-1.49 -1.33L-1.52 -1.97L-1.37 -2.66L-1.06 -3.35L-0.61 -3.99L-0.05 -4.54L0.59 -4.96L1.26 -5.23L1.91 -5.32L2.50 -5.23L2.99 -4.96L3.35 -4.54L3.55 -3.99L3.58 -3.35Z"/></g>
<g shape-rendering="crispEdges">
<path d="M891 740.5L930 740.5" stroke="#000"/>
<path d="M930 740.5L1042.23 615.84" stroke="#000"/>
</g>
<rect x="1042" y="615" width="1" height="1" fill="#fff"/>
<rect x="1042" y="614" width="1" height="1" fill="#000"/>
<rect x="1041" y="615" width="1" height="1" fill="#000"/>
<rect x="1043" y="615" width="1" height="1" fill="#000"/>
<rect x="1042" y="616" width="1" height="1" fill="#000"/>
</svg>
</body></html>
